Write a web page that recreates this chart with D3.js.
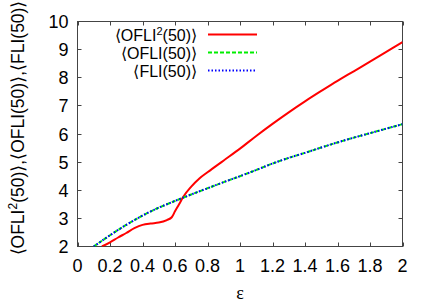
<!DOCTYPE html>
<html><head><meta charset="utf-8">
<script src="https://cdn.jsdelivr.net/npm/d3@7"></script>
<style>body{margin:0;background:#fff}svg{display:block}</style>
</head><body><svg id="c" width="436" height="305"></svg>
<script>
const seriesNames = ["\u27E8OFLI\u00B2(50)\u27E9", "\u27E8OFLI(50)\u27E9", "\u27E8FLI(50)\u27E9"];
const ofli2Eps = [0.15,0.2,0.25,0.3,0.35,0.4,0.45,0.5,0.55,0.58,0.6,0.625,0.65,0.7,0.75,0.8,0.9,1.0,1.1,1.2,1.3,1.4,1.5,1.6,1.7,1.8,1.9,2.0];
const ofli2Val = [2.0,2.15,2.32,2.48,2.65,2.77,2.82,2.85,2.94,3.04,3.25,3.5,3.76,4.13,4.42,4.64,5.06,5.48,5.93,6.36,6.77,7.16,7.53,7.89,8.23,8.57,8.92,9.27];
const fliEps = [0.1,0.2,0.3,0.4,0.5,0.6,0.7,0.8,0.9,1.0,1.1,1.2,1.3,1.4,1.5,1.6,1.7,1.8,1.9,2.0];
const ofliVal = [2.0,2.4,2.77,3.1,3.38,3.62,3.85,4.07,4.29,4.5,4.72,4.95,5.15,5.33,5.52,5.7,5.87,6.03,6.19,6.35];
const fliVal  = [2.0,2.4,2.77,3.1,3.38,3.62,3.85,4.07,4.29,4.5,4.72,4.95,5.15,5.33,5.52,5.7,5.87,6.03,6.19,6.35];
const xTicks = [0,0.2,0.4,0.6,0.8,1,1.2,1.4,1.6,1.8,2];
const yTicks = [2,3,4,5,6,7,8,9,10];

const svg = d3.select("#c");
const L=77.5, R=402.5, T=21.5, B=246.5;
const x = d3.scaleLinear().domain([0,2]).range([L,R]);
const y = d3.scaleLinear().domain([2,10]).range([B,T]);
const font = "'Liberation Sans', Arial, sans-serif";
const fs = 18;

svg.append("rect").attr("x",L).attr("y",T).attr("width",R-L).attr("height",B-T)
  .attr("fill","none").attr("stroke","#444").attr("stroke-width",1);

const tl = 4;
const g = svg.append("g").attr("stroke","#444").attr("stroke-width",1);
xTicks.forEach(t=>{
  const px = Math.round(x(t))+0.5;
  g.append("line").attr("x1",px).attr("x2",px).attr("y1",B).attr("y2",B-tl);
  g.append("line").attr("x1",px).attr("x2",px).attr("y1",T).attr("y2",T+tl);
});
yTicks.forEach(t=>{
  const py = Math.round(y(t)-0.5)+0.5;
  g.append("line").attr("x1",L).attr("x2",L+tl).attr("y1",py).attr("y2",py);
  g.append("line").attr("x1",R).attr("x2",R-tl).attr("y1",py).attr("y2",py);
});

svg.append("g").selectAll("text").data(xTicks).join("text")
  .attr("x",d=>x(d)).attr("y",271.5).attr("text-anchor","middle")
  .attr("font-family",font).attr("font-size",fs).text(d=>d3.format("")(d));
svg.append("g").selectAll("text").data(yTicks).join("text")
  .attr("x",68.5).attr("y",d=>y(d)+6.5).attr("text-anchor","end")
  .attr("font-family",font).attr("font-size",fs).text(d=>d);

svg.append("text").attr("x",240).attr("y",299).attr("text-anchor","middle")
  .attr("font-family","'Liberation Serif', serif").attr("font-size",18).text("\u03B5");
const yl = svg.append("text").attr("transform","translate(24,128) rotate(-90)")
  .attr("text-anchor","middle").attr("font-family",font).attr("font-size",17.5);
yl.append("tspan").text("\u27E8OFLI");
yl.append("tspan").attr("dy",-7).attr("font-size",12).text("2");
yl.append("tspan").attr("dy",7).text("(50)\u27E9,\u27E8OFLI(50)\u27E9,\u27E8FLI(50)\u27E9");

svg.append("clipPath").attr("id","cp").append("rect")
  .attr("x",L).attr("y",T).attr("width",R-L).attr("height",B-T);
const line = d3.line().x(d=>x(d[0])).y(d=>y(d[1])).curve(d3.curveMonotoneX);
const styles = [
  {c:"#ff0000", w:2, dash:null},
  {c:"#00ee00", w:2, dash:"4,2"},
  {c:"#0000ff", w:2, dash:"1.5,2"}
];
const data = [
  d3.zip(ofli2Eps, ofli2Val),
  d3.zip(fliEps, ofliVal),
  d3.zip(fliEps, fliVal)
];
data.forEach((d,i)=>{
  svg.append("path").attr("d",line(d)).attr("fill","none")
    .attr("stroke",styles[i].c).attr("stroke-width",styles[i].w)
    .attr("stroke-dasharray",styles[i].dash).attr("clip-path","url(#cp)");
});

const ly = [34.5, 52.5, 70.5];
seriesNames.forEach((n,i)=>{
  const t = svg.append("text").attr("x",197).attr("y",ly[i]+6).attr("text-anchor","end")
    .attr("font-family",font).attr("font-size",16);
  if(i===0){
    t.append("tspan").text("\u27E8OFLI");
    t.append("tspan").attr("dy",-6).attr("font-size",11).text("2");
    t.append("tspan").attr("dy",6).text("(50)\u27E9");
  } else t.text(n);
  svg.append("line").attr("x1",208).attr("x2",257).attr("y1",ly[i]).attr("y2",ly[i])
    .attr("stroke",styles[i].c).attr("stroke-width",styles[i].w)
    .attr("stroke-dasharray",styles[i].dash);
});
</script></body></html>
